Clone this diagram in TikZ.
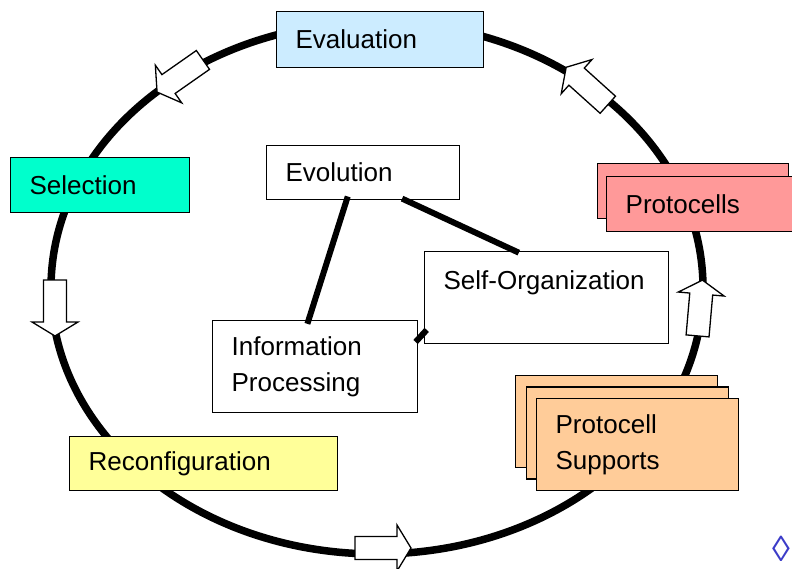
\documentclass[tikz,border=0pt]{standalone}
\usepackage{fontspec}
\setmainfont{Liberation Sans}
\usetikzlibrary{shadows,backgrounds}

\definecolor{evalblue}{HTML}{CCECFF}
\definecolor{selgreen}{HTML}{00FFCC}
\definecolor{protored}{HTML}{FF9999}
\definecolor{supporange}{HTML}{FFCC99}
\definecolor{reconfyellow}{HTML}{FFFF99}
\definecolor{navblue}{HTML}{3C3CC8}

\begin{document}
\begin{tikzpicture}[x=1pt, y=-1pt,
    box/.style={draw, line width=1.3pt, anchor=north west, align=left,
      inner xsep=19pt, inner ysep=0pt, font=\fontsize{26}{36}\selectfont},
    stack/.style={copy shadow={shadow xshift=#1, shadow yshift=-#1*1.1,
      fill=supporange, draw, line width=1.3pt}},
    link/.style={line width=6pt, shorten <=-4pt, shorten >=-4pt},
    cycle arrow/.pic={\draw[line width=1.3pt, fill=white]
      (-28,-11.5) -- (14,-11.5) -- (14,-23) -- (28,0) -- (14,23) -- (14,11.5) -- (-28,11.5) -- cycle;}]
  \useasboundingbox (0,0) rectangle (792,568);

  % the cycle
  \draw[line width=7.5pt] (377,288) ellipse [x radius=326pt, y radius=266pt];

  \node[box, fill=evalblue, minimum width=207pt, minimum height=56pt, text width=169pt]
    (eval) at (276,11) {Evaluation};
  \node[box, fill=selgreen, minimum width=179pt, minimum height=55pt, text width=141pt]
    (sel) at (10,157) {Selection};
  \node[box, fill=reconfyellow, minimum width=268pt, minimum height=54pt, text width=230pt]
    (reconf) at (69,436) {Reconfiguration};
  \node[box, fill=protored, minimum width=191pt, minimum height=55pt, text width=153pt,
      copy shadow={shadow xshift=-9pt, shadow yshift=13pt, fill=protored, draw, line width=1.3pt}]
    (cells) at (606,176) {Protocells};
  \node[box, fill=supporange, minimum width=202pt, minimum height=92pt, text width=164pt,
      stack=-21pt, stack=-10.5pt]
    (supp) at (536,398) {Protocell\\Supports};

  % inner triangle
  \node[box, minimum width=193pt, minimum height=54pt, text width=155pt]
    (evol) at (266,145) {Evolution};
  \node[box, minimum width=244pt, minimum height=92pt, text width=206pt]
    (self) at (424,251) {Self-Organization\\~};
  \node[box, minimum width=205pt, minimum height=92pt, text width=167pt]
    (info) at (212,320) {Information\\Processing};
  \begin{scope}[on background layer]
    \draw[link] (evol.239) -- (info.98);
    \draw[link] (evol.327) -- (self.124);
    \draw[link] (info.15) -- (self.196);
  \end{scope}

  % arrows along the cycle
  \pic[rotate=215] at (180,76) {cycle arrow};
  \pic[rotate=270] at (55,308) {cycle arrow};
  \pic at (383,548) {cycle arrow};
  \pic[rotate=85] at (700,308) {cycle arrow};
  \pic[rotate=138] at (587,86) {cycle arrow};

  \node[text=navblue, font=\fontsize{36}{36}\selectfont] (nav) at (781,549) {◊};
\end{tikzpicture}
\end{document}
